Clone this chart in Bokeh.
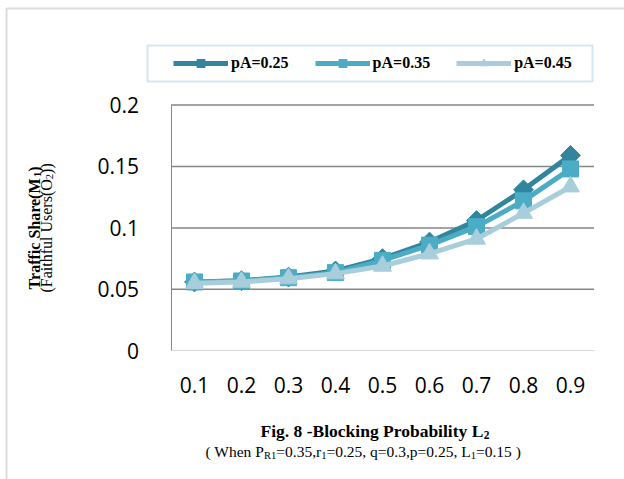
import math
from bokeh.plotting import figure
from bokeh.models import (Range1d, FixedTicker, Legend, LegendItem,
                          Label, BoxAnnotation, ColumnDataSource)
from bokeh.embed import file_html
from bokeh.resources import INLINE

# ---------------- data ----------------
blocking_prob = ["0.1", "0.2", "0.3", "0.4", "0.5", "0.6", "0.7", "0.8", "0.9"]
pa_025 = [0.056, 0.057, 0.060, 0.065, 0.075, 0.0885, 0.106, 0.131, 0.159]
pa_035 = [0.056, 0.0568, 0.0595, 0.0636, 0.0736, 0.086, 0.101, 0.122, 0.148]
pa_045 = [0.055, 0.056, 0.0587, 0.0628, 0.069, 0.079, 0.091, 0.112, 0.1335]
series_names = ["pA=0.25", "pA=0.35", "pA=0.45"]
y_ticks = [0, 0.05, 0.1, 0.15, 0.2]
y_tick_labels = ["0", "0.05", "0.1", "0.15", "0.2"]

# category positions on the x scale (1..n)
x_pos = list(range(1, len(blocking_prob) + 1))

# ---------------- layout (pixel geometry of the plotting area) ----------------
W, H = 624, 479
PL, PR, PT, PB = 170.5, 593.5, 104.5, 350.3   # plot area edges in canvas pixels
n = len(blocking_prob)
x_lo, x_hi = 0.5, n + 0.5
y_lo, y_hi = y_ticks[0], y_ticks[-1]
xs = (x_hi - x_lo) / (PR - PL)
ys = (y_hi - y_lo) / (PB - PT)


def dx(px):
    return x_lo + (px - PL) * xs


def dy(py):
    return y_lo + (PB - py) * ys


p = figure(width=W, height=H,
           x_range=Range1d(dx(0), dx(W)), y_range=Range1d(dy(H), dy(0)),
           output_backend="svg", toolbar_location=None,
           min_border_left=0, min_border_right=0, min_border_top=0, min_border_bottom=0)
p.outline_line_color = None
p.background_fill_color = "white"
p.border_fill_color = "white"
p.xgrid.visible = False
p.ygrid.visible = False

# x axis
p.xaxis.fixed_location = y_lo
p.xaxis.bounds = (x_lo, x_hi)
p.xaxis.ticker = FixedTicker(ticks=x_pos)
p.xaxis.major_label_overrides = dict(zip(x_pos, blocking_prob))
p.xaxis.axis_line_color = "#D9D9D9"
p.xaxis.axis_line_width = 1
p.xaxis.major_tick_line_color = None
p.xaxis.minor_tick_line_color = None
p.xaxis.major_label_text_font = "Open Sans"
p.xaxis.major_label_text_font_size = "21px"
p.xaxis.major_label_text_color = "black"
p.xaxis.major_label_standoff = 20

# y axis
p.yaxis.fixed_location = x_lo
p.yaxis.bounds = (y_lo, y_hi)
p.yaxis.ticker = FixedTicker(ticks=y_ticks)
p.yaxis.major_label_overrides = dict(zip(y_ticks, y_tick_labels))
p.yaxis.axis_line_color = "#868686"
p.yaxis.major_tick_line_color = None
p.yaxis.minor_tick_line_color = None
p.yaxis.major_label_text_font = "Open Sans"
p.yaxis.major_label_text_font_size = "21px"
p.yaxis.major_label_text_color = "black"
p.yaxis.major_label_standoff = 26

# horizontal gridlines limited to the plot area
grid_y = y_ticks[1:]
p.segment(x0=[x_lo] * len(grid_y), x1=[x_hi] * len(grid_y), y0=grid_y, y1=grid_y,
          line_color="#868686", line_width=1.5)

# series
colors = ["#31859C", "#4BACC6", "#A9CEDB"]
markers = ["square", "square", "triangle"]
angles = [math.pi / 4, 0, 0]
sizes = [14, 16, 18]
items = []
for name, vals, c, mk, a, s in zip(series_names, [pa_025, pa_035, pa_045], colors, markers, angles, sizes):
    src = ColumnDataSource(dict(x=x_pos, y=vals))
    l = p.line("x", "y", source=src, line_width=5, line_color=c)
    m = p.scatter("x", "y", source=src, marker=mk, size=s, angle=a,
                  fill_color=c, line_color=c)
    items.append(LegendItem(label=name, renderers=[l, m]))

legend = Legend(items=items, orientation="horizontal", location=(173, H - 73),
                padding=0, spacing=26, margin=0, glyph_width=55, glyph_height=20,
                label_height=20, label_standoff=3,
                label_text_font="Liberation Serif", label_text_font_style="bold",
                label_text_font_size="16px", label_text_color="black",
                border_line_color=None, background_fill_alpha=0)
p.add_layout(legend)

# legend box & outer border
p.add_layout(BoxAnnotation(left=147, right=592, top=45, bottom=81,
                           left_units="canvas", right_units="canvas",
                           top_units="canvas", bottom_units="canvas",
                           fill_color=None, line_color="#6FA8DC", line_width=2))
p.add_layout(BoxAnnotation(left=6, right=640, top=8, bottom=500,
                           left_units="canvas", right_units="canvas",
                           top_units="canvas", bottom_units="canvas",
                           fill_color=None, line_color="#8C8C8C", line_width=2))

# ---------------- captions (Times-metric text chaining for subscripts) ----------------
SERIF = "Liberation Serif"
TR = {" ": 250, "(": 333, ")": 333, "W": 944, "h": 500, "e": 444, "n": 500, "P": 556,
      "R": 667, "1": 500, "=": 564, "0": 500, ".": 250, "3": 500, "5": 500, ",": 250,
      "r": 333, "2": 500, "q": 500, "p": 500, "L": 611, "F": 556, "a": 444, "i": 278,
      "t": 278, "f": 333, "u": 500, "l": 278, "U": 722, "s": 389, "O": 722}
TB = {"F": 611, "i": 278, "g": 500, ".": 250, " ": 250, "8": 500, "-": 333, "B": 667,
      "l": 278, "o": 500, "c": 444, "k": 556, "n": 556, "P": 611, "r": 444, "b": 556,
      "a": 500, "t": 333, "y": 500, "L": 667, "2": 500, "T": 667, "f": 333, "S": 556,
      "h": 556, "e": 444, "(": 333, "M": 944, "1": 500, ")": 333}


def tw(s, size, bold):
    tab = TB if bold else TR
    return sum(tab.get(c, 500) for c in s) / 1000.0 * size


def chain(parts, x0, y0, size, sub_size, bold, sub_shift, rotated=False):
    """parts: list of (text, is_sub). Horizontal: left->right. Rotated: bottom->top."""
    pos = 0.0
    st = "bold" if bold else "normal"
    for txt, is_sub in parts:
        fs = sub_size if is_sub else size
        off = sub_shift if is_sub else 0
        if rotated:
            px, py, ang = x0 + off, y0 - pos, math.pi / 2
        else:
            px, py, ang = x0 + pos, y0 + off, 0
        p.add_layout(Label(x=dx(px), y=dy(py), text=txt, angle=ang, text_font=SERIF,
                           text_font_size=f"{fs}px", text_font_style=st,
                           text_color="black", text_align="left",
                           text_baseline="alphabetic"))
        pos += tw(txt, fs, bold)


def total(parts, size, sub_size, bold):
    return sum(tw(t, sub_size if s else size, bold) for t, s in parts)


title_parts = [("Fig. 8 -Blocking Probability L", False), ("2", True)]
chain(title_parts, 260, 430, 17.5, 11.5, True, 4)

sub_parts = [("( When P", False), ("R1", True), ("=0.35,r", False), ("1", True),
             ("=0.25, q=0.3,p=0.25, L", False), ("1", True), ("=0.15 )", False)]
chain(sub_parts, 205, 451, 15.5, 10.5, False, 4)

# rotated y-axis title (two lines)
ya_parts = [("Traffic Share(M", False), ("1", True), (")", False)]
yb_parts = [("(Faithful Users(O", False), ("2", True), ("))", False)]
ymid = (PT + PB) / 2
chain(ya_parts, 34, ymid + total(ya_parts, 16, 10.5, True) / 2, 16, 10.5, True, 3, rotated=True)
chain(yb_parts, 46, ymid + total(yb_parts, 16, 10.5, False) / 2, 16, 10.5, False, 3, rotated=True)

open("out.html", "w").write(file_html(p, INLINE))
